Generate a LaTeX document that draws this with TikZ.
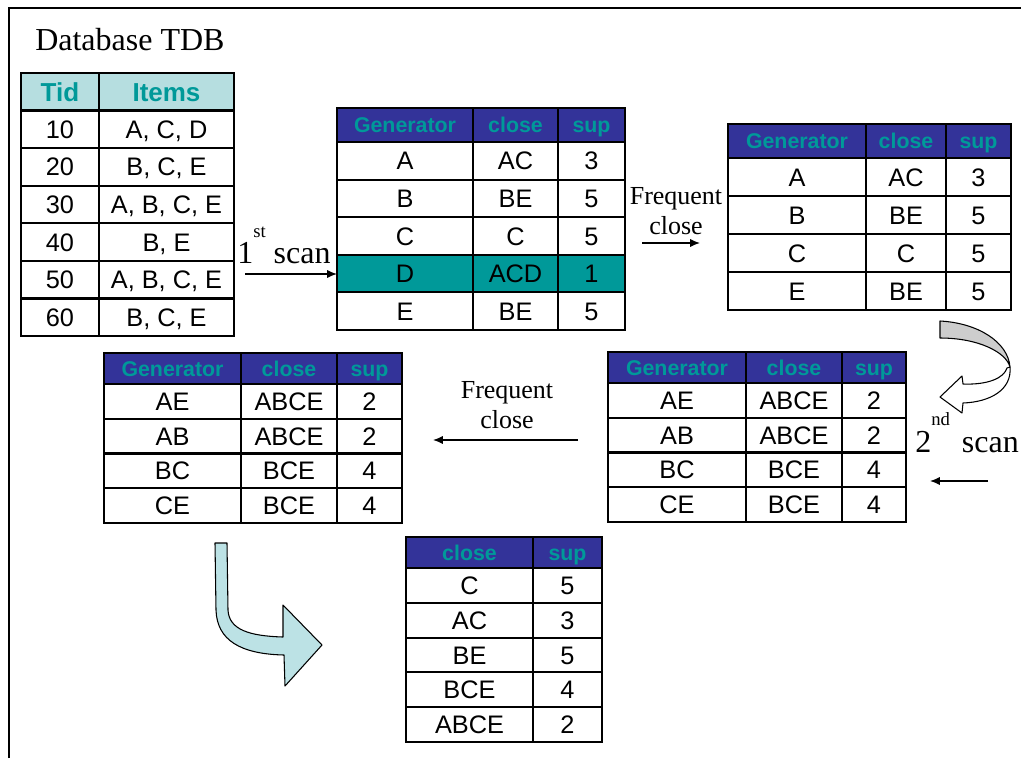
\documentclass[tikz,border=0pt]{standalone}
\usepackage{fontspec}
\setmainfont{Liberation Serif}
\setsansfont{Liberation Sans}
\usepackage{xcolor}
\usepackage{tikz}
\usetikzlibrary{arrows.meta}
\definecolor{headblue}{RGB}{51,51,153}
\definecolor{headteal}{RGB}{0,153,153}
\definecolor{rowteal}{RGB}{0,153,153}
\definecolor{tdbhead}{RGB}{182,222,224}
\definecolor{arrowcyan}{RGB}{188,226,229}
\definecolor{arrowgray}{RGB}{205,205,205}

\begin{document}
\begin{tikzpicture}[
x=0.75pt,y=-0.75pt,
TabLine/.style={draw=black,line width=2.1pt},
RowLine/.style={draw=black,line width=1.6pt},
HeadText/.style={font=\sffamily\bfseries\fontsize{16}{18}\selectfont,text=headteal,text height=11.5pt,text depth=0pt},
TdbHead/.style={font=\sffamily\bfseries\fontsize{19.5}{22}\selectfont,text=headteal,text height=14pt,text depth=0pt},
BodyText/.style={font=\sffamily\fontsize{19}{22}\selectfont,text height=13.6pt,text depth=0pt},
LabelText/.style={font=\fontsize{24}{28}\selectfont,inner sep=0pt},
FreqText/.style={font=\fontsize{19.5}{23}\selectfont,align=center,inner sep=0pt},
MyArrow/.style={-{Latex[length=2.6mm, width=2.2mm]},line width=1.1pt},
BigArrow/.style={draw=black,line width=0.8pt,line join=round}
]
\useasboundingbox (0,0) rectangle (1021,758);

% frame
\draw[line width=1.6pt] (9,758) -- (9,8) -- (1021,8);

\node[LabelText,anchor=base west] (title) at (35,50) {Database TDB};

% Database TDB
\fill[tdbhead] (21,73) rectangle (234,110.5);
\foreach \k in {1,...,5}
  \draw[RowLine] (21,{110.5+\k*37.6}) -- (234,{110.5+\k*37.6});
\draw[TabLine] (21,110.5) -- (234,110.5);
\draw[TabLine] (99,73) -- (99,336);
\draw[TabLine] (21,73) rectangle (234,336);
\node[TdbHead] (tid) at (60,92) {Tid};
\node[TdbHead] (items) at (166.5,92) {Items};
\foreach \tno/\itm [count=\i] in {10/{A, C, D},20/{B, C, E},30/{A, B, C, E},40/{B, E},50/{A, B, C, E},60/{B, C, E}}{
  \node[BodyText] (tid-\i) at (60,{110.5+(\i-0.5)*37.6}) {\tno};
  \node[BodyText] (items-\i) at (166.5,{110.5+(\i-0.5)*37.6}) {\itm};
}

% first scan
\node[LabelText,anchor=base west] (scan1) at (237,263) {1\raisebox{19pt}{\fontsize{14}{16}\selectfont st}\hspace{6pt}scan};
\coordinate (scan1-s) at (245,274);
\coordinate (scan1-e) at (337,274);
\draw[MyArrow] (scan1-s) -- (scan1-e);

% generators after first scan
\fill[headblue] (337,108) rectangle (625,142);
\fill[rowteal] (337,{142+3*37.6}) rectangle (625,{142+4*37.6});
\foreach \k in {1,...,4}
  \draw[RowLine] (337,{142+\k*37.6}) -- (625,{142+\k*37.6});
\draw[TabLine] (337,142) -- (625,142);
\foreach \x in {473,558}
  \draw[TabLine] (\x,108) -- (\x,330);
\draw[TabLine] (337,108) rectangle (625,330);
\node[HeadText] (ga-gen) at (405,125) {Generator};
\node[HeadText] (ga-close) at (515.5,125) {close};
\node[HeadText] (ga-sup) at (591.5,125) {sup};
\foreach \gen/\cl/\su [count=\i] in {A/AC/3,B/BE/5,C/C/5,D/ACD/1,E/BE/5}{
  \node[BodyText] (ga-gen-\i) at (405,{142+(\i-0.5)*37.6}) {\gen};
  \node[BodyText] (ga-close-\i) at (515.5,{142+(\i-0.5)*37.6}) {\cl};
  \node[BodyText] (ga-sup-\i) at (591.5,{142+(\i-0.5)*37.6}) {\su};
}

% frequent close (1)
\node[FreqText] (freq1) at (676,211) {Frequent\\close};
\coordinate (freq1-s) at (642,243);
\coordinate (freq1-e) at (700,243);
\draw[MyArrow] (freq1-s) -- (freq1-e);

% frequent generators
\fill[headblue] (728,124) rectangle (1011,158);
\foreach \k in {1,...,3}
  \draw[RowLine] (728,{158+\k*38}) -- (1011,{158+\k*38});
\draw[TabLine] (728,158) -- (1011,158);
\foreach \x in {866,946}
  \draw[TabLine] (\x,124) -- (\x,310);
\draw[TabLine] (728,124) rectangle (1011,310);
\node[HeadText] (gb-gen) at (797,141) {Generator};
\node[HeadText] (gb-close) at (906,141) {close};
\node[HeadText] (gb-sup) at (978.5,141) {sup};
\foreach \gen/\cl/\su [count=\i] in {A/AC/3,B/BE/5,C/C/5,E/BE/5}{
  \node[BodyText] (gb-gen-\i) at (797,{158+(\i-0.5)*38}) {\gen};
  \node[BodyText] (gb-close-\i) at (906,{158+(\i-0.5)*38}) {\cl};
  \node[BodyText] (gb-sup-\i) at (978.5,{158+(\i-0.5)*38}) {\su};
}

% curved gray arrow
\filldraw[BigArrow,fill=arrowgray] (940,321) .. controls (978,323) and (1008,342) .. (1010,367)
  .. controls (1006,352) and (978,338) .. (940,338) -- cycle;
\filldraw[BigArrow,fill=white] (1010,367) .. controls (1012,390) and (990,402) .. (963,403)
  -- (962,413) -- (940,397) -- (962,376) -- (963,384)
  .. controls (988,385) and (1004,378) .. (1007,368) -- cycle;

% second scan
\node[LabelText,anchor=base west] (scan2) at (915,452) {2\raisebox{20pt}{\fontsize{14}{16}\selectfont nd}\hspace{9pt}scan};
\coordinate (scan2-s) at (988,481);
\coordinate (scan2-e) at (930,481);
\draw[MyArrow] (scan2-s) -- (scan2-e);

% generators after second scan
\fill[headblue] (608,352) rectangle (906,383);
\foreach \k in {1,...,3}
  \draw[RowLine] (608,{383+\k*34.75}) -- (906,{383+\k*34.75});
\draw[TabLine] (608,383) -- (906,383);
\foreach \x in {746,842}
  \draw[TabLine] (\x,352) -- (\x,522);
\draw[TabLine] (608,352) rectangle (906,522);
\node[HeadText] (gc-gen) at (677,367.5) {Generator};
\node[HeadText] (gc-close) at (794,367.5) {close};
\node[HeadText] (gc-sup) at (874,367.5) {sup};
\foreach \gen/\cl/\su [count=\i] in {AE/ABCE/2,AB/ABCE/2,BC/BCE/4,CE/BCE/4}{
  \node[BodyText] (gc-gen-\i) at (677,{383+(\i-0.5)*34.75}) {\gen};
  \node[BodyText] (gc-close-\i) at (794,{383+(\i-0.5)*34.75}) {\cl};
  \node[BodyText] (gc-sup-\i) at (874,{383+(\i-0.5)*34.75}) {\su};
}

% frequent close (2)
\node[FreqText] (freq2) at (507,405) {Frequent\\close};
\coordinate (freq2-s) at (578,440);
\coordinate (freq2-e) at (433,440);
\draw[MyArrow] (freq2-s) -- (freq2-e);

\fill[headblue] (104,353) rectangle (402,384);
\foreach \k in {1,...,3}
  \draw[RowLine] (104,{384+\k*34.75}) -- (402,{384+\k*34.75});
\draw[TabLine] (104,384) -- (402,384);
\foreach \x in {241,337}
  \draw[TabLine] (\x,353) -- (\x,523);
\draw[TabLine] (104,353) rectangle (402,523);
\node[HeadText] (gd-gen) at (172.5,368.5) {Generator};
\node[HeadText] (gd-close) at (289,368.5) {close};
\node[HeadText] (gd-sup) at (369.5,368.5) {sup};
\foreach \gen/\cl/\su [count=\i] in {AE/ABCE/2,AB/ABCE/2,BC/BCE/4,CE/BCE/4}{
  \node[BodyText] (gd-gen-\i) at (172.5,{384+(\i-0.5)*34.75}) {\gen};
  \node[BodyText] (gd-close-\i) at (289,{384+(\i-0.5)*34.75}) {\cl};
  \node[BodyText] (gd-sup-\i) at (369.5,{384+(\i-0.5)*34.75}) {\su};
}

% bent cyan arrow
\filldraw[BigArrow,fill=arrowcyan] (215,543) -- (216,610)
  .. controls (217,640) and (240,654) .. (284,655) -- (285,686) -- (322,645) -- (283,605)
  -- (283,637) .. controls (250,636) and (229,630) .. (228,610) -- (227,543) -- cycle;

% closed itemsets
\fill[headblue] (406,537) rectangle (602,568);
\foreach \k in {1,...,4}
  \draw[RowLine] (406,{568+\k*34.8}) -- (602,{568+\k*34.8});
\draw[TabLine] (406,568) -- (602,568);
\draw[TabLine] (533,537) -- (533,742);
\draw[TabLine] (406,537) rectangle (602,742);
\node[HeadText] (ge-close) at (469.5,552.5) {close};
\node[HeadText] (ge-sup) at (567.5,552.5) {sup};
\foreach \cl/\su [count=\i] in {C/5,AC/3,BE/5,BCE/4,ABCE/2}{
  \node[BodyText] (ge-close-\i) at (469.5,{568+(\i-0.5)*34.8}) {\cl};
  \node[BodyText] (ge-sup-\i) at (567.5,{568+(\i-0.5)*34.8}) {\su};
}

\end{tikzpicture}
\end{document}
